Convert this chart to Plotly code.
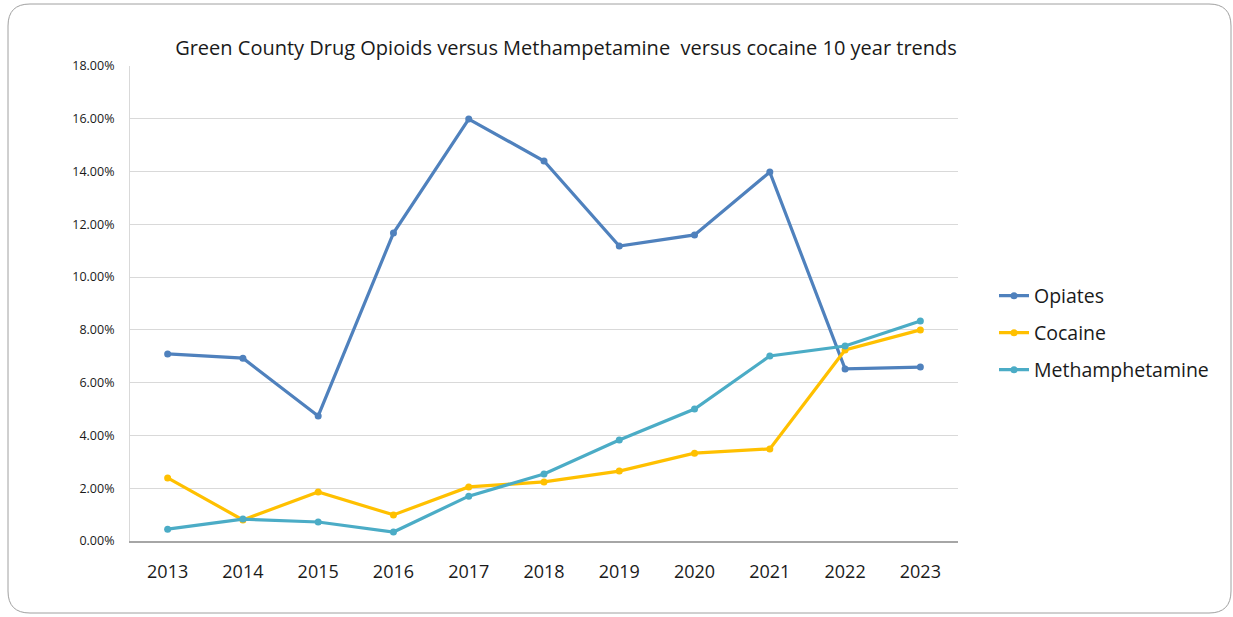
import plotly.graph_objects as go

years = ["2013", "2014", "2015", "2016", "2017", "2018", "2019", "2020", "2021", "2022", "2023"]
opiates = [0.0709, 0.0693, 0.0474, 0.1167, 0.1599, 0.1440, 0.1118, 0.1160, 0.1398, 0.0652, 0.0659]
cocaine = [0.0239, 0.0080, 0.0186, 0.0099, 0.0205, 0.0224, 0.0265, 0.0333, 0.0349, 0.0724, 0.0800]
meth = [0.0045, 0.0083, 0.0072, 0.0034, 0.0170, 0.0254, 0.0383, 0.0500, 0.0701, 0.0739, 0.0834]
y_ticks = [0.0, 0.02, 0.04, 0.06, 0.08, 0.10, 0.12, 0.14, 0.16, 0.18]

series = [
    ("Opiates", opiates, "#4F81BD", "legend"),
    ("Cocaine", cocaine, "#FFC000", "legend2"),
    ("Methamphetamine", meth, "#4BACC6", "legend3"),
]

fig = go.Figure()
for name, vals, color, lg in series:
    fig.add_trace(go.Scatter(
        x=years, y=vals, name=name, mode="lines+markers",
        line=dict(color=color, width=3.2),
        marker=dict(color=color, size=7),
        legend=lg, showlegend=True,
    ))

W, H = 1233, 617
L, R, T, B = 130, 275, 66, 76
pw, ph = W - L - R, H - T - B

def px(x):
    return (x - L) / pw

def py(y):
    return 1 - (y - T) / ph

# rounded border
x0, x1, y0, y1, r = 8, 1231, 4, 613, 22
path = (
    f"M {px(x0 + r)},{py(y0)} L {px(x1 - r)},{py(y0)} "
    f"Q {px(x1)},{py(y0)} {px(x1)},{py(y0 + r)} "
    f"L {px(x1)},{py(y1 - r)} Q {px(x1)},{py(y1)} {px(x1 - r)},{py(y1)} "
    f"L {px(x0 + r)},{py(y1)} Q {px(x0)},{py(y1)} {px(x0)},{py(y1 - r)} "
    f"L {px(x0)},{py(y0 + r)} Q {px(x0)},{py(y0)} {px(x0 + r)},{py(y0)} Z"
)

def legend_at(yc):
    return dict(
        x=px(994), xanchor="left", y=py(yc), yanchor="middle",
        font=dict(size=19.5, color="#1a1a1a"), itemwidth=30,
        bgcolor="rgba(0,0,0,0)", visible=True,
    )

fig.update_layout(
    width=W, height=H,
    margin=dict(l=L, r=R, t=T, b=B),
    paper_bgcolor="white", plot_bgcolor="white",
    showlegend=True,
    font=dict(family="Open Sans, Liberation Sans, sans-serif", color="#1a1a1a"),
    title=dict(
        text="Green County Drug Opioids versus Methampetamine&nbsp; versus cocaine 10 year trends",
        x=566 / W, xanchor="center", y=1 - 48 / H, yanchor="middle",
        font=dict(size=20, color="#1a1a1a"),
    ),
    xaxis=dict(
        type="category", range=[-0.5, 10.5], showgrid=False,
        showline=True, linecolor="#A6A6A6", linewidth=1.5,
        ticks="", tickfont=dict(size=18, color="#1a1a1a"), ticklabelstandoff=14,
    ),
    yaxis=dict(
        range=[0, 0.18], tickvals=y_ticks, tickformat=".2%",
        showgrid=True, gridcolor="#D9D9D9", gridwidth=1,
        showline=True, linecolor="#D9D9D9", linewidth=1,
        zeroline=False, ticks="", tickfont=dict(size=12.5, color="#1a1a1a"),
        ticklabelstandoff=12,
    ),
    legend=legend_at(296),
    legend2=legend_at(333),
    legend3=legend_at(370),
    shapes=[dict(type="path", xref="paper", yref="paper", path=path,
                 line=dict(color="#A0A0A0", width=1), fillcolor="rgba(0,0,0,0)",
                 layer="below")],
)

fig.write_html(
    "out.html",
    config={"displayModeBar": False},
    post_script="document.body.style.margin='0';document.body.style.overflow='hidden';",
)
